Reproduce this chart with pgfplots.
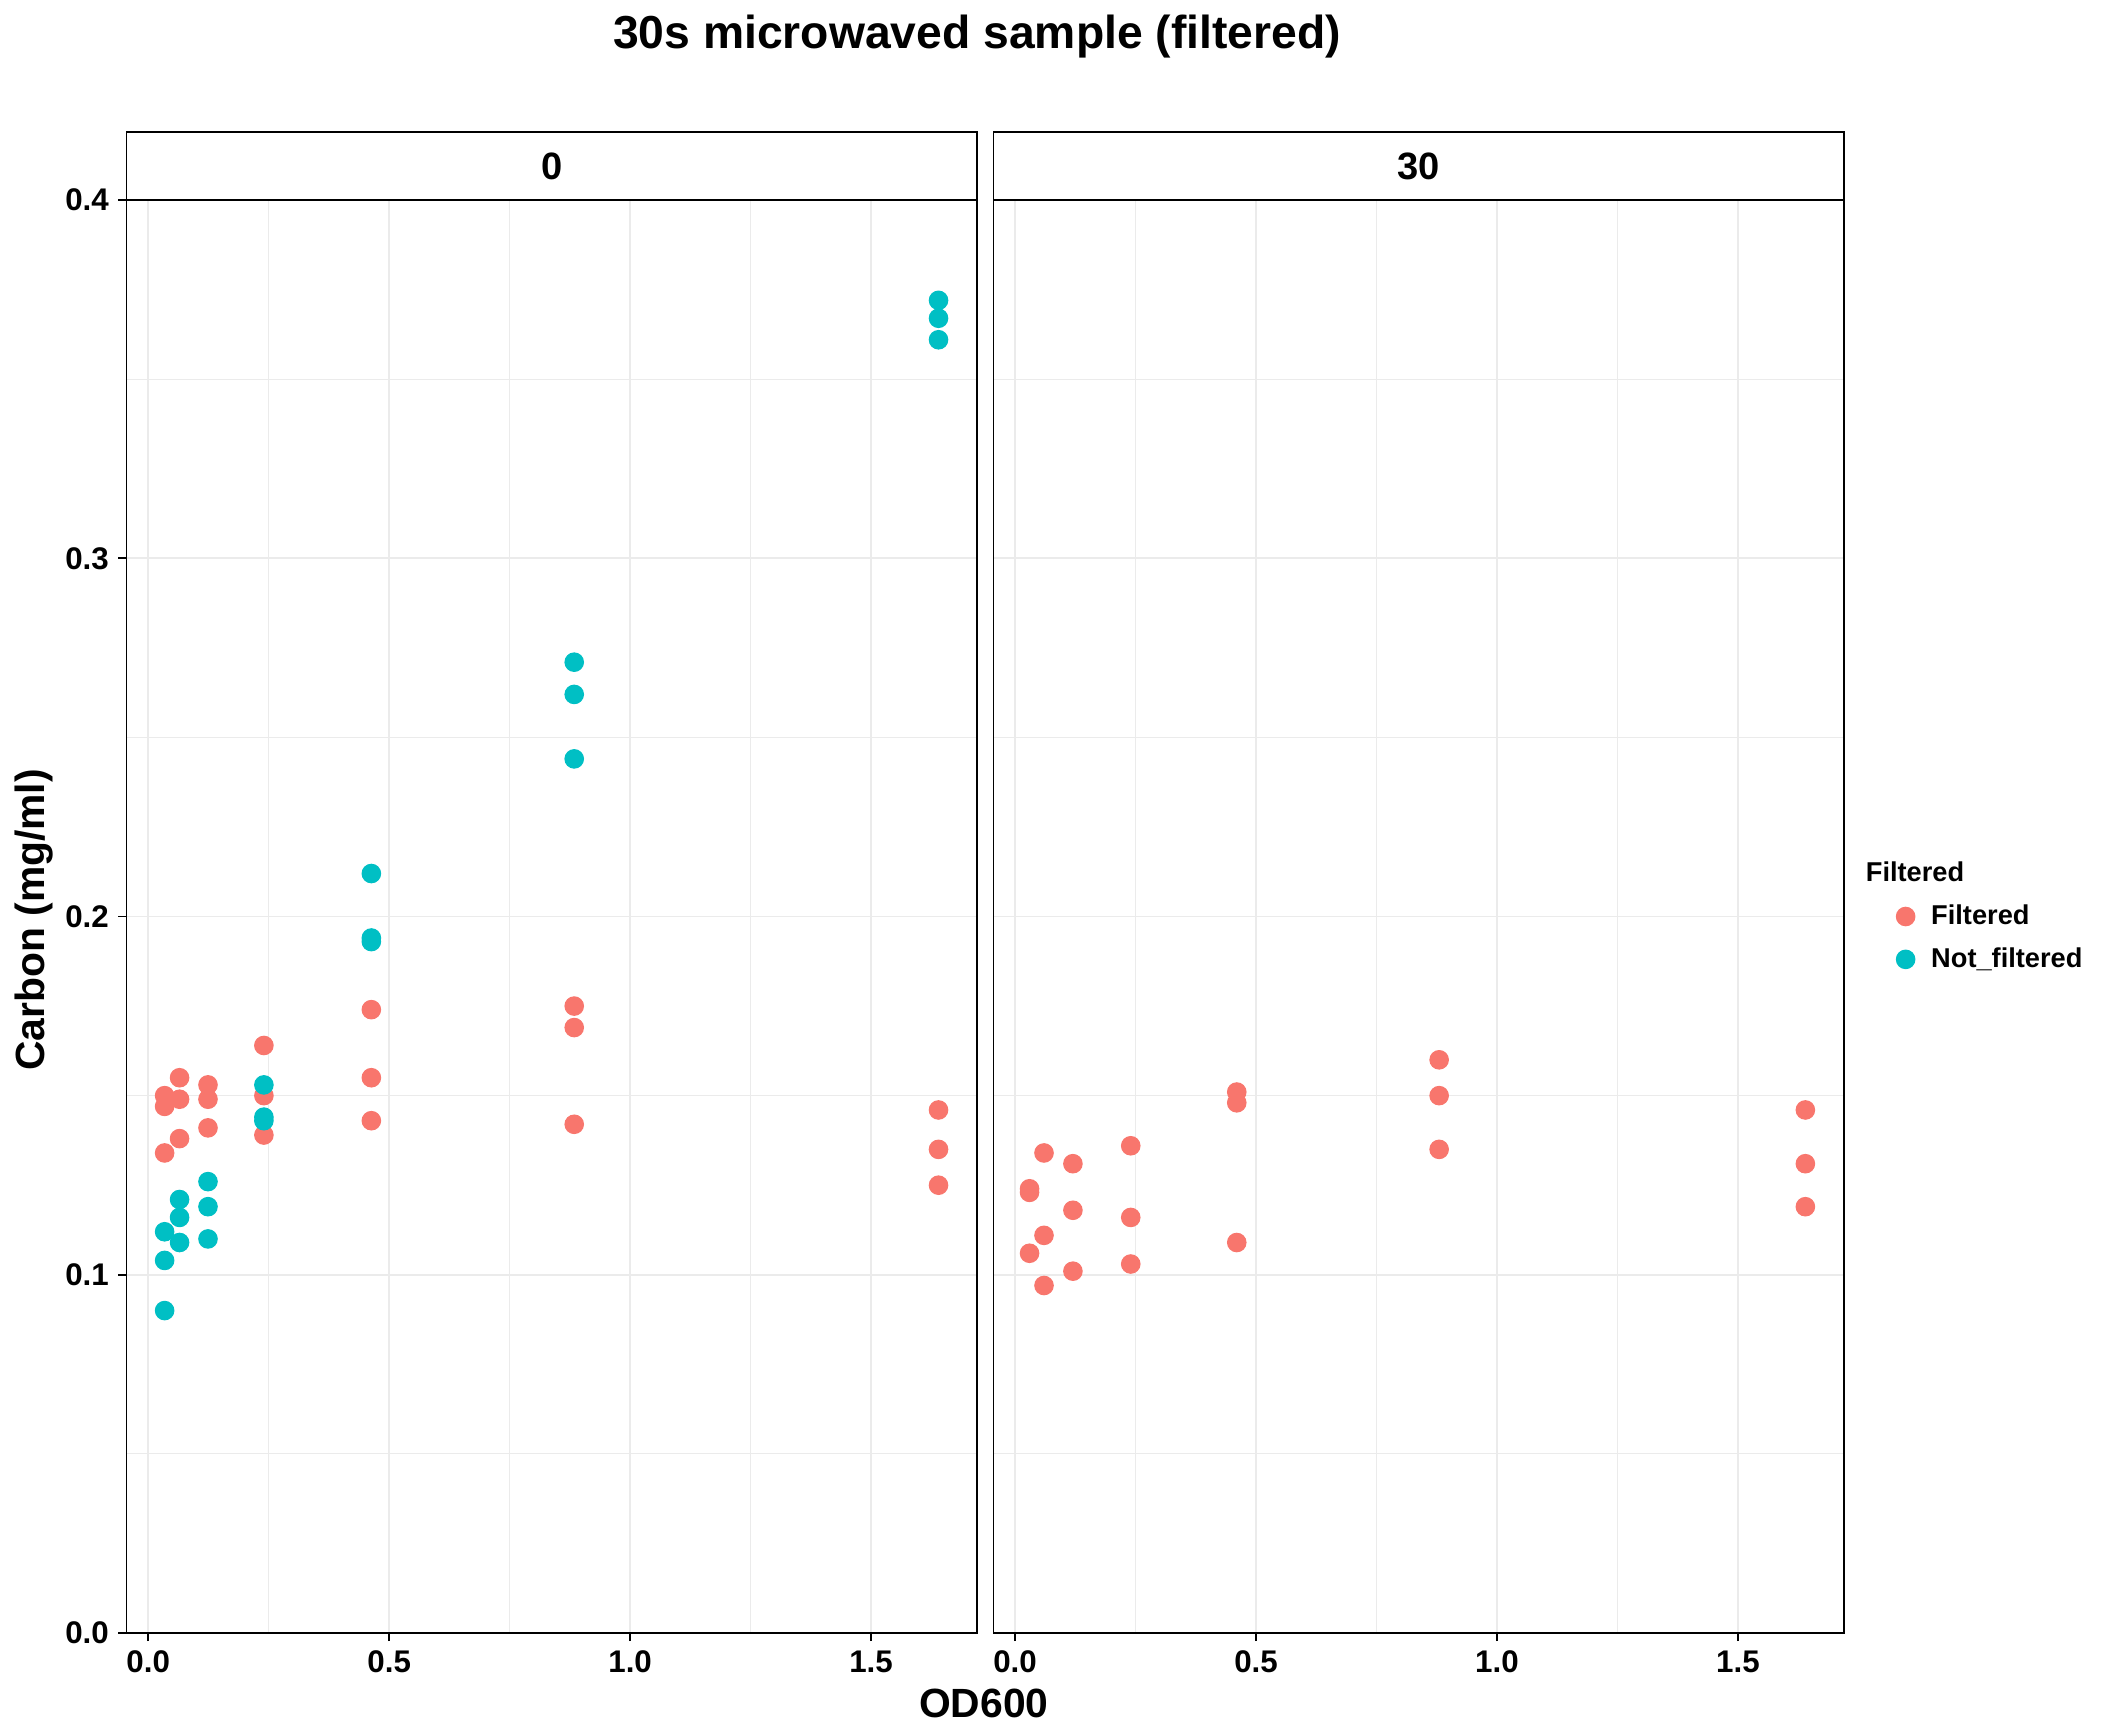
\documentclass[border=0pt]{standalone}
\usepackage{fontspec}
\setmainfont{Liberation Sans}
\usepackage{pgfplots}
\pgfplotsset{compat=1.18}
\definecolor{cF}{HTML}{F8766D}
\definecolor{cN}{HTML}{00BFC4}
\definecolor{gridc}{HTML}{EBEBEB}
\pgfplotsset{
  panel/.style={
    scale only axis, width=312.5pt, height=526.5pt,
    xmin=-0.045, xmax=1.72, ymin=0, ymax=0.4,
    xtick={0,0.5,1,1.5}, minor xtick={0.25,0.75,1.25},
    ytick={0,0.1,0.2,0.3,0.4}, minor ytick={0.05,0.15,0.25,0.35},
    grid=both, major grid style={gridc, line width=0.6pt}, minor grid style={gridc, line width=0.35pt},
    minor tick length=0pt, major tick length=3pt, tick align=outside,
    xtick pos=bottom, ytick pos=left,
    axis line style={black, line width=0.5pt},
    /pgf/number format/assume math mode=true,
    /pgf/number format/fixed, /pgf/number format/fixed zerofill, /pgf/number format/precision=1,
    tick label style={font=\fontsize{11.5}{12}\selectfont\bfseries, black},
    tick style={black, line width=0.6pt},
    clip=false,
  },
  fpts/.style={only marks, mark=*, mark size=3.4pt, color=cF, mark options={draw=cF, fill=cF}},
  npts/.style={only marks, mark=*, mark size=3.4pt, color=cN, mark options={draw=cN, fill=cN}},
}
\begin{document}
\begin{tikzpicture}
\path[use as bounding box] (0,0) rectangle (776pt,635pt);
\begin{axis}[panel, name=a1, at={(46.5pt,35pt)}, anchor=south west]
\addplot[fpts] coordinates {
(0.034,0.150)(0.034,0.147)(0.034,0.134)
(0.065,0.155)(0.065,0.149)(0.065,0.138)
(0.124,0.153)(0.124,0.149)(0.124,0.141)
(0.24,0.164)(0.24,0.150)(0.24,0.139)
(0.463,0.174)(0.463,0.155)(0.463,0.143)
(0.884,0.175)(0.884,0.169)(0.884,0.142)
(1.64,0.146)(1.64,0.135)(1.64,0.125)};
\addplot[npts] coordinates {
(0.034,0.112)(0.034,0.104)(0.034,0.090)
(0.065,0.121)(0.065,0.116)(0.065,0.109)
(0.124,0.126)(0.124,0.119)(0.124,0.110)
(0.24,0.153)(0.24,0.144)(0.24,0.143)
(0.463,0.212)(0.463,0.194)(0.463,0.193)
(0.884,0.271)(0.884,0.262)(0.884,0.244)
(1.64,0.372)(1.64,0.367)(1.64,0.361)};
\end{axis}
\begin{axis}[panel, name=a2, at={(365pt,35pt)}, anchor=south west, yticklabels={}, ytick style={draw=none},
  legend style={at={(1.035,0.5)}, anchor=west, draw=none, fill=none, font=\fontsize{10}{12}\selectfont\bfseries, row sep=3pt, cells={anchor=west}, nodes={inner xsep=6pt}},
  legend cell align=left]
\addlegendimage{empty legend}
\addlegendentry{\hspace{-24pt}Filtered}
\addplot[fpts] coordinates {
(0.03,0.124)(0.03,0.123)(0.03,0.106)
(0.06,0.134)(0.06,0.111)(0.06,0.097)
(0.12,0.131)(0.12,0.118)(0.12,0.101)
(0.24,0.136)(0.24,0.116)(0.24,0.103)
(0.46,0.151)(0.46,0.148)(0.46,0.109)
(0.88,0.160)(0.88,0.150)(0.88,0.135)
(1.64,0.146)(1.64,0.131)(1.64,0.119)};
\addlegendentry{Filtered}
\addlegendimage{npts}
\addlegendentry{Not\_filtered}
\end{axis}
\foreach \a/\t in {a1/0,a2/30}{
  \draw[line width=0.5pt, fill=white] (\a.north west) rectangle ([yshift=25pt]\a.north east);
  \node[font=\fontsize{14}{16}\selectfont\bfseries] at ([yshift=12.5pt]\a.north) {\t};
}
\node[font=\fontsize{17}{20}\selectfont\bfseries] at (359pt,621.5pt) {30s microwaved sample (filtered)};
\node[font=\fontsize{15}{18}\selectfont\bfseries] at (361.5pt,9pt) {OD600};
\node[font=\fontsize{15}{18}\selectfont\bfseries, rotate=90] at (12.5pt,297pt) {Carbon (mg/ml)};
\end{tikzpicture}
\end{document}
